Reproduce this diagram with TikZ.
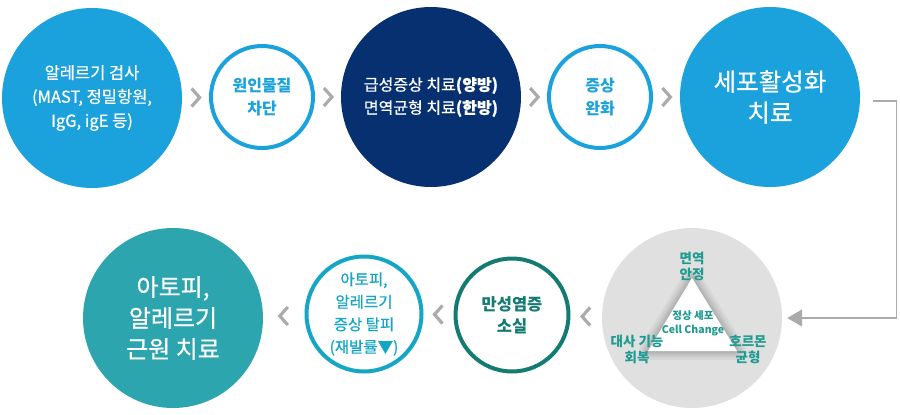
\documentclass[tikz,border=0pt]{standalone}
\usepackage{fontspec}
\setmainfont{Noto Sans CJK KR}
\newfontfamily\medkr{Noto Sans CJK KR}[FakeBold=0.6]
\usetikzlibrary{arrows.meta,calc}

\definecolor{skyblue}{HTML}{1BA1DB}
\definecolor{navyblue}{HTML}{06306F}
\definecolor{rootteal}{HTML}{2CA5AF}
\definecolor{darkteal}{HTML}{137B71}
\definecolor{cyanring}{HTML}{15A6C5}
\definecolor{chevgray}{HTML}{ABABAB}
\definecolor{cellgray}{HTML}{E0E0E0}
\definecolor{labteal}{HTML}{1F9B8F}

\newcommand{\fs}[2]{\fontsize{#1}{#2}\selectfont}

\begin{document}
\begin{tikzpicture}[x=1pt,y=-1pt,
  bigc/.style={circle,minimum size=180pt,inner sep=0pt,align=center,text=white},
  ringc/.style={circle,minimum size=102pt,inner sep=0pt,line width=4pt,draw,fill=white,align=center},
  chev/.style={chevgray,line width=3.2pt},
  cellab/.style={text=labteal,align=center,font=\fs{13.5}{16}\bfseries},
  link/.style={chevgray,line width=1.4pt,-{Triangle[length=15pt,width=17pt]}}]
  \useasboundingbox (0,0) rectangle (900,415);

  % top row
  \node[bigc,fill=skyblue,font=\medkr\fs{16.5}{24}] (test) at (92,98)
    {알레르기 검사\\(MAST, 정밀항원,\\IgG, igE 등)};
  \node[ringc,draw=skyblue,text=skyblue,font=\fs{16}{23}\bfseries] (block) at (262,97)
    {원인물질\\차단};
  \node[bigc,fill=navyblue,font=\medkr\fs{16}{23}] (acute) at (431,97)
    {급성증상 치료\textbf{(양방)}\\면역균형 치료\textbf{(한방)}};
  \node[ringc,draw=skyblue,text=skyblue,font=\fs{16}{23}\bfseries] (relief) at (600,97)
    {증상\\완화};
  \node[bigc,fill=skyblue,font=\medkr\fs{24.5}{31}] (cellact) at (770,97)
    {세포활성화\\치료};

  % bottom row
  \node[circle,minimum size=180pt,inner sep=0pt,fill=cellgray] (cell) at (692,318) {};
  \node[ringc,minimum size=113pt,draw=darkteal,text=darkteal,font=\fs{16.5}{22}\bfseries] (inflam) at (512,315)
    {만성염증\\소실};
  \node[ringc,minimum size=115pt,draw=cyanring,text=cyanring,font=\medkr\fs{15.5}{22.5}] (escape) at (364,314)
    {아토피,\\알레르기\\증상 탈피\\(재발률▼)};
  \node[bigc,fill=rootteal,font=\medkr\fs{24}{31}] (root) at (173,318)
    {아토피,\\알레르기\\근원 치료};

  % triangle inside the grey circle
  \coordinate (ta) at (692,278);
  \coordinate (tb) at (648,351);
  \coordinate (tc) at (737,351);
  \foreach \w in {18,13,9,6,3}
    \draw[black,opacity=0.045,line width=\w pt,line join=round] (ta) -- (tb) -- (tc) -- cycle;
  \fill[white] (ta) -- (tb) -- (tc) -- cycle;
  \node[text=labteal,align=center,font=\fs{10.5}{14}\bfseries] (normal) at (693,323)
    {정상 세포\\Cell Change};
  \node[cellab] (immune) at (692,266) {면역\\안정};
  \node[cellab] (metab) at (637,349) {대사 기능\\회복};
  \node[cellab] (hormone) at (748,349) {호르몬\\균형};

  % chevrons
  \foreach \a/\b in {test/block,block/acute,acute/relief,relief/cellact}
    \draw[chev] ($(\a.east)!.5!(\b.west)$) ++(-4,-9) -- ++(8,9) -- ++(-8,9);
  \foreach \a/\b in {cell/inflam,inflam/escape,escape/root}
    \draw[chev] ($(\a.west)!.5!(\b.east)$) ++(4,-9) -- ++(-8,9) -- ++(8,9);

  % connector
  \draw[link,shorten <=13pt,shorten >=5pt] ([yshift=-4pt]cellact.east) -- ++(36,0) |- (cell.east);
\end{tikzpicture}
\end{document}
